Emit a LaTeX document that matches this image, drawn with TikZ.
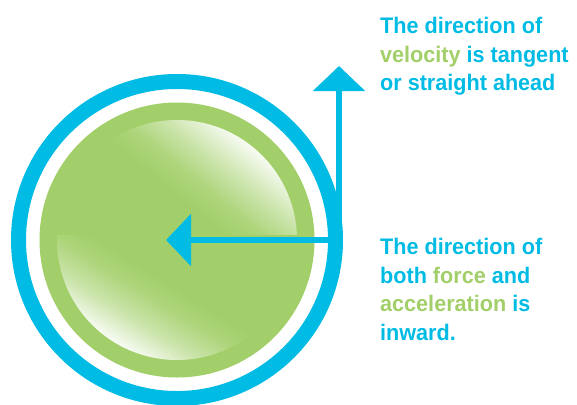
\documentclass[tikz,border=0pt]{standalone}
\usepackage{fontspec}
\newfontfamily\lab{Liberation Sans Bold}[FakeStretch=0.96]
\usetikzlibrary{arrows.meta}
\definecolor{ringcyan}{RGB}{0,188,228}
\definecolor{ballgreen}{RGB}{162,207,105}
\definecolor{tgreen}{RGB}{162,207,105}
\colorlet{hl}{white!92!ballgreen}
\colorlet{hlmid}{white!45!ballgreen}
\colorlet{hllow}{white!12!ballgreen}
\pgfdeclareverticalshading{glareup}{100bp}{color(0bp)=(ballgreen); color(57bp)=(ballgreen); color(62bp)=(hllow); color(68bp)=(hlmid); color(75bp)=(hl); color(100bp)=(hl)}
\pgfdeclareverticalshading{glarelow}{100bp}{color(0bp)=(ballgreen); color(58.5bp)=(ballgreen); color(63bp)=(hllow); color(69bp)=(hlmid); color(75bp)=(hl); color(100bp)=(hl)}
\tikzset{
  lbl/.style={font=\lab\fontsize{22.5}{28.5}\selectfont, text=ringcyan, align=left, inner sep=0pt, anchor=north west},
  vectip/.tip={Triangle[length=25pt,width=51pt]},
  vec/.style={draw=ringcyan, line width=6pt, line join=miter}
}
\begin{document}
\begin{tikzpicture}[x=1pt,y=-1pt]
\useasboundingbox (0,0) rectangle (577,404);
\clip (0,0) rectangle (577,404);
\coordinate (c) at (177,240);
\fill[ballgreen] (c) circle[radius=137.5];
\begin{scope}
  \clip (0,0) rectangle (577,244);
  \shade[shading=glareup, shading angle=-39] (c) circle[radius=120];
\end{scope}
\begin{scope}
  \clip (0,235) rectangle (577,404);
  \shade[shading=glarelow, shading angle=148] (c) circle[radius=120];
\end{scope}
\draw[ringcyan, line width=15pt] (c) circle[radius=158.5];
\coordinate (vt) at (339,66);
\coordinate (k) at (339,240);
\coordinate (ht) at (166,240);
\draw[vec, {vectip}-{vectip}] (vt) -- (k) -- (ht);
\node[lbl] (t1) at (380,17) {The direction of\\\textcolor{tgreen}{velocity} is tangent\\or straight ahead};
\node[lbl] (t2) at (380,238) {The direction of\\both \textcolor{tgreen}{force} and\\\textcolor{tgreen}{acceleration} is\\inward.};
\end{tikzpicture}
\end{document}
